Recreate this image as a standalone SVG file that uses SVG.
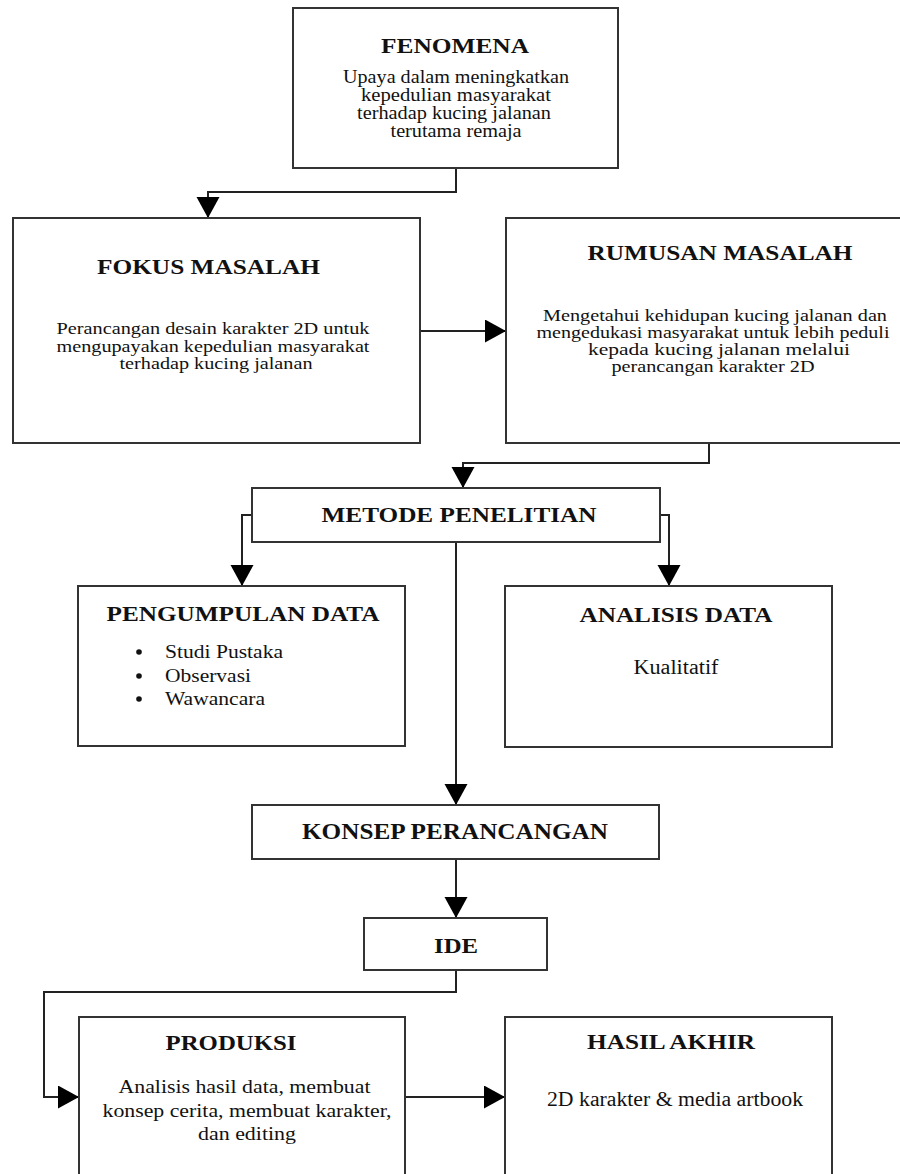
<svg xmlns="http://www.w3.org/2000/svg" width="900" height="1174" viewBox="0 0 900 1174">
<style>
.box{fill:#fff;stroke:#333;stroke-width:2}
.conn{fill:none;stroke:#222;stroke-width:2}
text{font-family:'Liberation Serif',serif;fill:#111}
.t{font-weight:bold;font-size:21px;text-anchor:middle}
.b{font-size:17px;text-anchor:middle}
.l{font-size:19.5px}
</style>
<defs>
<marker id="ah" markerUnits="userSpaceOnUse" markerWidth="22" markerHeight="24" refX="21" refY="11.5" orient="auto">
<path d="M0,0 L21,11.5 L0,23 z" fill="#000"/>
</marker>
</defs>
<rect width="900" height="1174" fill="#fff"/>
<g id="connectors">
<path class="conn" d="M456,168 V192 H208 V218" marker-end="url(#ah)"/>
<path class="conn" d="M420,331 H506" marker-end="url(#ah)"/>
<path class="conn" d="M709,443 V463 H463 V488" marker-end="url(#ah)"/>
<path class="conn" d="M252,515 H242 V586" marker-end="url(#ah)"/>
<path class="conn" d="M660,515 H669 V586" marker-end="url(#ah)"/>
<path class="conn" d="M456,542 V805" marker-end="url(#ah)"/>
<path class="conn" d="M456,859 V918" marker-end="url(#ah)"/>
<path class="conn" d="M456,970 V992 H44 V1097 H79" marker-end="url(#ah)"/>
<path class="conn" d="M405,1097 H505" marker-end="url(#ah)"/>
</g>
<g id="fenomena">
<rect class="box" x="293" y="8" width="325" height="160"/>
<text class="t" x="455" y="53" textLength="148" lengthAdjust="spacingAndGlyphs" style="font-size:20px">FENOMENA</text>
<text class="b" x="456" y="83" textLength="226" lengthAdjust="spacingAndGlyphs" style="font-size:18.5px">Upaya dalam meningkatkan</text>
<text class="b" x="456" y="101" textLength="190" lengthAdjust="spacingAndGlyphs" style="font-size:18.5px">kepedulian masyarakat</text>
<text class="b" x="454" y="119" textLength="194" lengthAdjust="spacingAndGlyphs" style="font-size:18.5px">terhadap kucing jalanan</text>
<text class="b" x="456" y="137" textLength="131" lengthAdjust="spacingAndGlyphs" style="font-size:18.5px">terutama remaja</text>
</g>
<g id="fokus-masalah">
<rect class="box" x="13" y="218" width="407" height="225"/>
<text class="t" x="208.5" y="274" textLength="223" lengthAdjust="spacingAndGlyphs">FOKUS MASALAH</text>
<text class="b" x="213" y="334" textLength="313" lengthAdjust="spacingAndGlyphs">Perancangan desain karakter 2D untuk</text>
<text class="b" x="213" y="352" textLength="313" lengthAdjust="spacingAndGlyphs">mengupayakan kepedulian masyarakat</text>
<text class="b" x="216" y="369" textLength="193" lengthAdjust="spacingAndGlyphs">terhadap kucing jalanan</text>
</g>
<g id="rumusan-masalah">
<rect class="box" x="506" y="218" width="400" height="225"/>
<text class="t" x="720" y="260" textLength="265" lengthAdjust="spacingAndGlyphs" style="font-size:20px">RUMUSAN MASALAH</text>
<text class="b" x="715" y="321" textLength="344" lengthAdjust="spacingAndGlyphs">Mengetahui kehidupan kucing jalanan dan</text>
<text class="b" x="713" y="338" textLength="353" lengthAdjust="spacingAndGlyphs">mengedukasi masyarakat untuk lebih peduli</text>
<text class="b" x="719" y="355" textLength="262" lengthAdjust="spacingAndGlyphs">kepada kucing jalanan melalui</text>
<text class="b" x="713" y="372" textLength="203" lengthAdjust="spacingAndGlyphs">perancangan karakter 2D</text>
</g>
<g id="metode-penelitian">
<rect class="box" x="252" y="488" width="408" height="54"/>
<text class="t" x="459" y="522" textLength="275" lengthAdjust="spacingAndGlyphs" style="font-size:22px">METODE PENELITIAN</text>
</g>
<g id="pengumpulan-data">
<rect class="box" x="78" y="586" width="327" height="160"/>
<text class="t" x="243" y="621" textLength="273" lengthAdjust="spacingAndGlyphs" style="font-size:21.5px">PENGUMPULAN DATA</text>
<circle cx="139" cy="652" r="2.8" fill="#111"/>
<circle cx="139" cy="676" r="2.8" fill="#111"/>
<circle cx="139" cy="699" r="2.8" fill="#111"/>
<text class="l" x="165" y="658" textLength="118" lengthAdjust="spacingAndGlyphs">Studi Pustaka</text>
<text class="l" x="165" y="682" textLength="86" lengthAdjust="spacingAndGlyphs">Observasi</text>
<text class="l" x="165" y="705" textLength="100" lengthAdjust="spacingAndGlyphs">Wawancara</text>
</g>
<g id="analisis-data">
<rect class="box" x="505" y="586" width="327" height="161"/>
<text class="t" x="676" y="622" textLength="193" lengthAdjust="spacingAndGlyphs" style="font-size:22px">ANALISIS DATA</text>
<text class="b" x="676" y="674" textLength="85" lengthAdjust="spacingAndGlyphs" style="font-size:20px">Kualitatif</text>
</g>
<g id="konsep-perancangan">
<rect class="box" x="252" y="805" width="407" height="54"/>
<text class="t" x="455" y="839" textLength="306" lengthAdjust="spacingAndGlyphs" style="font-size:23px">KONSEP PERANCANGAN</text>
</g>
<g id="ide">
<rect class="box" x="364" y="918" width="183" height="52"/>
<text class="t" x="456" y="953" textLength="44" lengthAdjust="spacingAndGlyphs">IDE</text>
</g>
<g id="produksi">
<rect class="box" x="79" y="1017" width="326" height="180"/>
<text class="t" x="231" y="1050" textLength="131" lengthAdjust="spacingAndGlyphs" style="font-size:22px">PRODUKSI</text>
<text class="b" x="244.5" y="1093" textLength="252" lengthAdjust="spacingAndGlyphs" style="font-size:19px">Analisis hasil data, membuat</text>
<text class="b" x="247" y="1117" textLength="289" lengthAdjust="spacingAndGlyphs" style="font-size:19px">konsep cerita, membuat karakter,</text>
<text class="b" x="247" y="1140" textLength="98" lengthAdjust="spacingAndGlyphs" style="font-size:19px">dan editing</text>
</g>
<g id="hasil-akhir">
<rect class="box" x="505" y="1017" width="327" height="180"/>
<text class="t" x="671" y="1049" textLength="168" lengthAdjust="spacingAndGlyphs">HASIL AKHIR</text>
<text class="b" x="675" y="1106" textLength="256" lengthAdjust="spacingAndGlyphs" style="font-size:20px">2D karakter &amp; media artbook</text>
</g>
</svg>
